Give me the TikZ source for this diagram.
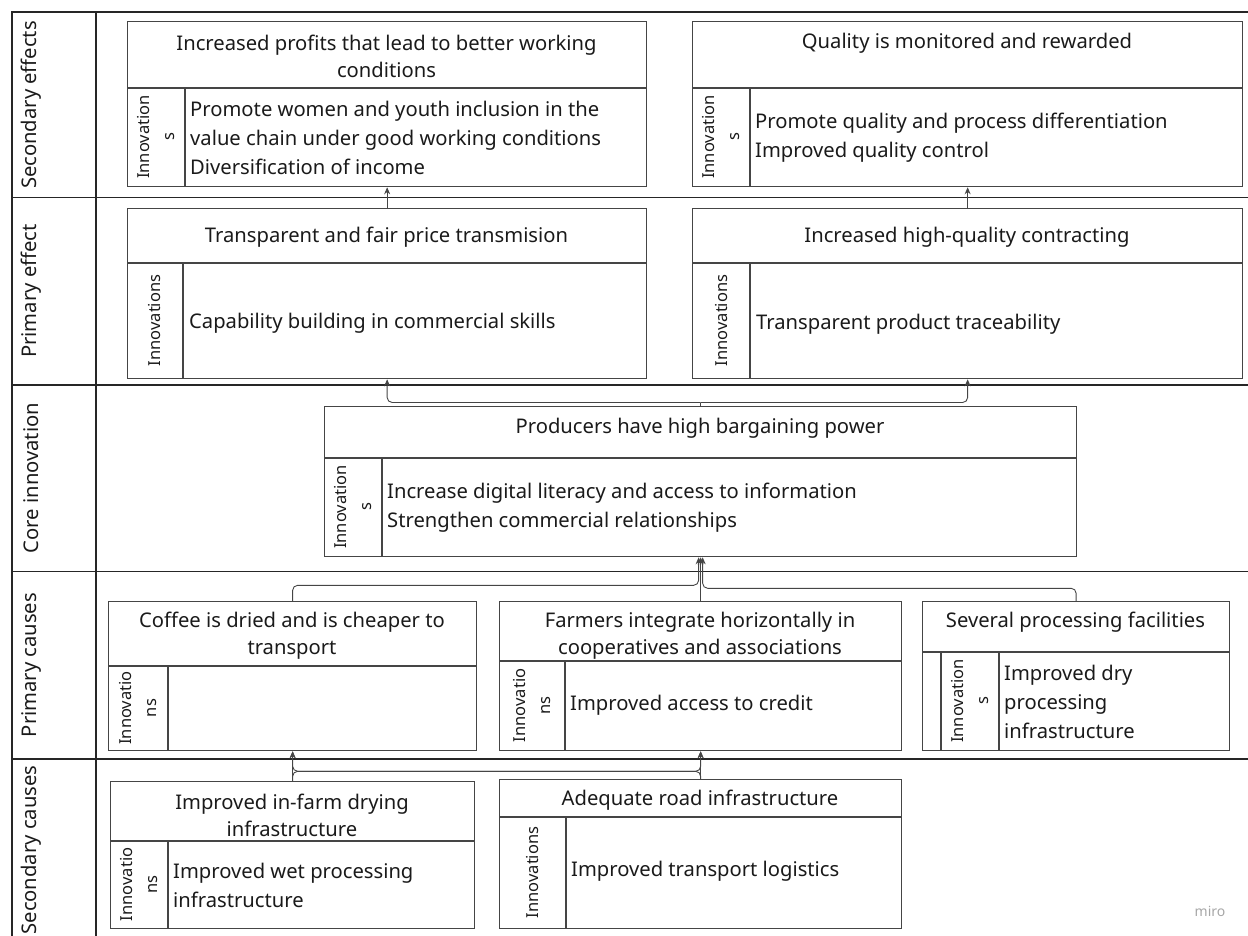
\documentclass[tikz,border=0pt]{standalone}
\usepackage{fontspec}
\setmainfont{Noto Sans}
\usetikzlibrary{arrows.meta,calc}
\definecolor{bd}{HTML}{454545}
\definecolor{tx}{HTML}{1A1A1A}
\begin{document}
\begin{tikzpicture}[x=1pt,y=-1pt,
 box/.style={draw=bd, line width=1.3pt, inner sep=0, anchor=north west},
 sep/.style={draw=bd, line width=1.3pt},
 ttl/.style={text=tx, font=\fontsize{20.2}{27}\selectfont, align=center, inner sep=0},
 bdy/.style={text=tx, font=\fontsize{20.2}{29}\selectfont, align=left, inner sep=0, anchor=west},
 inn/.style={text=tx, font=\fontsize{16.5}{25}\selectfont, align=center, rotate=90, inner sep=0},
 lbl/.style={text=tx, font=\fontsize{20.2}{24}\selectfont, rotate=90, inner sep=0},
 conn/.style={draw=bd, line width=0.9pt},
 arr/.style={conn, -{Stealth[length=7pt,width=6pt]}},
 frame/.style={draw=black!85, line width=1.8pt},
]
\useasboundingbox (0,0) rectangle (1248,936);
% frame
\draw[frame] (1250,12) -- (12,12) -- (12,940);
\draw[frame, line width=2.6pt] (96,12) -- (96,940);
\foreach \yy in {197.5,385,571.5,759} \draw[frame] (12,\yy) -- (1250,\yy);
% row labels
\node[lbl] (l1) at (31,105) {Secondary effects};
\node[lbl] (l2) at (31,291) {Primary effect};
\node[lbl] (l3) at (31,478) {Core innovation};
\node[lbl] (l4) at (31,665) {Primary causes};
\node[lbl] (l5) at (31,850) {Secondary causes};

% Box A
\node[box, minimum width=519pt, minimum height=165pt] (A) at (127,21) {};
\draw[sep] (127,88) -- (646,88) (185,88) -- (185,186);
\node[ttl] (At) at (386.5,56.5) {Increased profits that lead to better working\\conditions};
\node[inn] (Ai) at (156,137) {Innovation\\s};
\node[bdy] (Ab) at (190,137.5) {Promote women and youth inclusion in the\\value chain under good working conditions\\Diversification of income};

% Box B
\node[box, minimum width=550pt, minimum height=165pt] (B) at (692,21) {};
\draw[sep] (692,88) -- (1242,88) (750,88) -- (750,186);
\node[ttl] (Bt) at (967,43) {Quality is monitored and rewarded};
\node[inn] (Bi) at (721,137) {Innovation\\s};
\node[bdy] (Bb) at (755,138) {Promote quality and process differentiation\\Improved quality control};

% Box C
\node[box, minimum width=519pt, minimum height=170pt] (C) at (127,208) {};
\draw[sep] (127,263) -- (646,263) (183,263) -- (183,378);
\node[ttl] (Ct) at (386.5,237) {Transparent and fair price transmision};
\node[inn] (Ci) at (155,320.5) {Innovations};
\node[bdy] (Cb) at (189,323) {Capability building in commercial skills};

% Box D
\node[box, minimum width=550pt, minimum height=170pt] (D) at (692,208) {};
\draw[sep] (692,263) -- (1242,263) (750,263) -- (750,378);
\node[ttl] (Dt) at (967,237) {Increased high-quality contracting};
\node[inn] (Di) at (721,320.5) {Innovations};
\node[bdy] (Db) at (756,324) {Transparent product traceability};

% Box E
\node[box, minimum width=752pt, minimum height=150pt] (E) at (324,406) {};
\draw[sep] (324,458) -- (1076,458) (382,458) -- (382,556);
\node[ttl] (Et) at (700,428) {Producers have high bargaining power};
\node[inn] (Ei) at (353,507) {Innovation\\s};
\node[bdy] (Eb) at (387,507.5) {Increase digital literacy and access to information\\Strengthen commercial relationships};

% Box F
\node[box, minimum width=368pt, minimum height=149pt] (F) at (108,601) {};
\draw[sep] (108,666) -- (476,666) (168,666) -- (168,750);
\node[ttl] (Ft) at (292,636) {Coffee is dried and is cheaper to\\transport};
\node[inn] (Fi) at (138,708) {Innovatio\\ns};

% Box G
\node[box, minimum width=402pt, minimum height=149pt] (G) at (499,601) {};
\draw[sep] (499,661) -- (901,661) (565,661) -- (565,750);
\node[ttl] (Gt) at (700,636) {Farmers integrate horizontally in\\cooperatives and associations};
\node[inn] (Gi) at (532,705.5) {Innovatio\\ns};
\node[bdy] (Gb) at (570,705) {Improved access to credit};

% Box H
\node[box, minimum width=307pt, minimum height=149pt] (H) at (922,601) {};
\draw[sep] (922,652) -- (1229,652) (941,652) -- (941,750) (999,652) -- (999,750);
\node[ttl] (Ht) at (1075.5,622) {Several processing facilities};
\node[inn] (Hi) at (970,701) {Innovation\\s};
\node[bdy] (Hb) at (1004,702) {Improved dry\\processing\\infrastructure};

% Box I
\node[box, minimum width=364pt, minimum height=147pt] (I) at (110,781) {};
\draw[sep] (110,841) -- (474,841) (168,841) -- (168,928);
\node[ttl] (It) at (292,815.5) {Improved in-farm drying\\infrastructure};
\node[inn] (Ii) at (139,884.5) {Innovatio\\ns};
\node[bdy] (Ib) at (173,885) {Improved wet processing\\infrastructure};

% Box J
\node[box, minimum width=402pt, minimum height=149pt] (J) at (499,779) {};
\draw[sep] (499,817) -- (901,817) (566,817) -- (566,928);
\node[ttl] (Jt) at (700,800) {Adequate road infrastructure};
\node[inn] (Ji) at (532.5,872.5) {Innovations};
\node[bdy] (Jb) at (571,871) {Improved transport logistics};

% connectors
\draw[arr] (C.north) -- (A.south);
\draw[arr] (D.north) -- (B.south);
\draw[conn] (E.north) -- ++(0,-3.5) coordinate (e1);
\draw[arr, rounded corners=5pt] (e1) -| (C.south);
\draw[arr, rounded corners=5pt] (e1) -| (D.south);

\draw[arr] (G.north) -- (E.south);
\draw[arr, rounded corners=5pt] (F.north) |- ($(E.south)+(-2,28)$) -- ($(E.south)+(-2,0)$);
\draw[arr, rounded corners=5pt] (H.north) |- ($(E.south)+(2,31)$) -- ($(E.south)+(2,0)$);

\draw[arr] (I.north) -- (F.south);
\draw[arr] (J.north) -- (G.south);
\draw[arr, rounded corners=5pt] (I.north) |- ($(G.south)+(0,20)$) -- (G.south);
\draw[arr, rounded corners=5pt] (J.north) |- ($(F.south)+(0,20)$) -- (F.south);

\node[text=black!35, font=\fontsize{14}{14}\selectfont] (wm) at (1210,911) {miro};
\end{tikzpicture}
\end{document}
